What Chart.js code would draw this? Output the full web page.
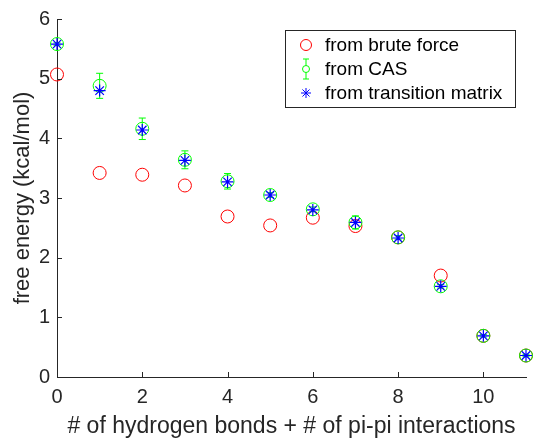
<!DOCTYPE html>
<html lang="en">
<head>
  <meta charset="UTF-8" />
  <title>Free energy vs interactions</title>
  <script src="https://cdn.jsdelivr.net/npm/chart.js"></script>
  <style>
    body { margin: 0; background: white; }
    #wrap { width: 534px; height: 440px; }
  </style>
</head>
<body>
  <div id="wrap"><canvas id="feChart" width="534" height="440"></canvas></div>

  <script>
    // x positions (number of interactions)
    const nInteractions = [0, 1, 2, 3, 4, 5, 6, 7, 8, 9, 10, 11];

    // free energies (kcal/mol)
    const bruteForce = [5.07, 3.42, 3.39, 3.21, 2.69, 2.54, 2.67, 2.53, 2.34, 1.70, 0.69, 0.36];
    const casValues = [5.58, 4.88, 4.16, 3.64, 3.28, 3.05, 2.81, 2.59, 2.34, 1.52, 0.69, 0.36];
    const casErrors = [0.02, 0.21, 0.18, 0.15, 0.13, 0.04, 0.04, 0.11, 0.03, 0.03, 0.02, 0.02];
    const transMatrix = [5.58, 4.80, 4.14, 3.63, 3.27, 3.05, 2.80, 2.59, 2.33, 1.52, 0.69, 0.36];

    const xTicks = [0, 2, 4, 6, 8, 10];
    const yTicks = [0, 1, 2, 3, 4, 5, 6];

    const RED = "#ff0000", GREEN = "#00ff00", BLUE = "#0000ff", INK = "#262626";
    const FONT = "'Liberation Sans', Arial, sans-serif";

    const toPoints = vals => vals.map((v, i) => ({ x: nInteractions[i], y: v }));

    // error bars for the CAS series, drawn right after that dataset
    const errorBars = {
      id: "errorBars",
      afterDatasetDraw(chart, args) {
        const ds = chart.data.datasets[args.index];
        if (!ds.errors) return;
        const { ctx, scales: { x, y } } = chart;
        ctx.save();
        ctx.strokeStyle = ds.borderColor;
        ctx.lineWidth = 1;
        ds.data.forEach((p, i) => {
          const e = ds.errors[i];
          const px = x.getPixelForValue(p.x);
          const top = y.getPixelForValue(p.y + e);
          const bot = y.getPixelForValue(p.y - e);
          ctx.beginPath();
          ctx.moveTo(px, top); ctx.lineTo(px, bot);
          ctx.moveTo(px - 3.5, top); ctx.lineTo(px + 3.5, top);
          ctx.moveTo(px - 3.5, bot); ctx.lineTo(px + 3.5, bot);
          ctx.stroke();
        });
        ctx.restore();
      }
    };

    // inward tick marks and the boxed legend, matlab style
    const matlabBits = {
      id: "matlabBits",
      afterDraw(chart) {
        const { ctx, chartArea: a, scales: { x, y } } = chart;
        ctx.save();
        ctx.strokeStyle = INK;
        ctx.lineWidth = 1;
        ctx.beginPath();
        xTicks.forEach(v => {
          const px = Math.round(x.getPixelForValue(v)) + 0.5;
          ctx.moveTo(px, a.bottom); ctx.lineTo(px, a.bottom - 5);
        });
        yTicks.forEach(v => {
          const py = Math.round(y.getPixelForValue(v)) + 0.5;
          ctx.moveTo(a.left, py); ctx.lineTo(a.left + 5, py);
        });
        ctx.stroke();

        // legend box
        const bx = 285, by = 30, bw = 230, bh = 77;
        ctx.fillStyle = "white";
        ctx.fillRect(bx, by, bw, bh);
        ctx.strokeRect(bx + 0.5, by + 0.5, bw, bh);

        const rows = [45, 69, 93];
        const mx = 306;
        ctx.font = "19px " + FONT;
        ctx.textBaseline = "middle";
        const order = [2, 1, 0]; // red, green, blue entries
        order.forEach((dsIndex, r) => {
          const ds = chart.data.datasets[dsIndex];
          const yy = rows[r];
          ctx.strokeStyle = ds.borderColor;
          ctx.beginPath();
          if (dsIndex === 2) {
            ctx.arc(mx, yy, 5.5, 0, Math.PI * 2);
          } else if (dsIndex === 1) {
            ctx.arc(mx, yy, 3.5, 0, Math.PI * 2);
            ctx.moveTo(mx, yy - 10); ctx.lineTo(mx, yy - 3.5);
            ctx.moveTo(mx, yy + 3.5); ctx.lineTo(mx, yy + 10);
            ctx.moveTo(mx - 3, yy - 10); ctx.lineTo(mx + 3, yy - 10);
            ctx.moveTo(mx - 3, yy + 10); ctx.lineTo(mx + 3, yy + 10);
          } else {
            for (let k = 0; k < 4; k++) {
              const ang = k * Math.PI / 4;
              ctx.moveTo(mx - 5 * Math.cos(ang), yy - 5 * Math.sin(ang));
              ctx.lineTo(mx + 5 * Math.cos(ang), yy + 5 * Math.sin(ang));
            }
          }
          ctx.stroke();
          ctx.fillStyle = "#000";
          ctx.fillText(ds.label, 325, yy + 1);
        });
        ctx.restore();
      }
    };

    const ctx = document.getElementById("feChart").getContext("2d");

    new Chart(ctx, {
      type: "scatter",
      data: {
        datasets: [
          {
            label: "from transition matrix",
            data: toPoints(transMatrix),
            pointStyle: "star",
            pointRadius: 6,
            borderColor: BLUE,
            backgroundColor: BLUE,
            pointBorderWidth: 1.2,
            clip: false,
            order: 0
          },
          {
            label: "from CAS",
            data: toPoints(casValues),
            errors: casErrors,
            pointStyle: "circle",
            pointRadius: 6.5,
            borderColor: GREEN,
            backgroundColor: "rgba(0,0,0,0)",
            pointBorderWidth: 1,
            clip: false,
            order: 1
          },
          {
            label: "from brute force",
            data: toPoints(bruteForce),
            pointStyle: "circle",
            pointRadius: 6.5,
            borderColor: RED,
            backgroundColor: "rgba(0,0,0,0)",
            pointBorderWidth: 1,
            clip: false,
            order: 2
          }
        ]
      },
      options: {
        responsive: false,
        animation: false,
        layout: { padding: { top: 19, right: 8, left: 0, bottom: 0 } },
        plugins: {
          legend: { display: false },
          tooltip: { enabled: false }
        },
        scales: {
          x: {
            type: "linear",
            min: 0,
            max: 11,
            afterBuildTicks: s => { s.ticks = xTicks.map(v => ({ value: v })); },
            afterFit: s => { s.height = 63; },
            grid: { display: false, drawTicks: false },
            border: { display: true, color: INK, width: 1 },
            ticks: { color: INK, padding: 8, font: { family: FONT, size: 20 } },
            title: {
              display: true,
              text: "# of hydrogen bonds + # of pi-pi interactions",
              color: INK,
              padding: { top: 0, bottom: 0 },
              font: { family: FONT, size: 23 }
            }
          },
          y: {
            type: "linear",
            min: 0,
            max: 6,
            afterBuildTicks: s => { s.ticks = yTicks.map(v => ({ value: v })); },
            afterFit: s => { s.width = 57; },
            grid: { display: false, drawTicks: false },
            border: { display: true, color: INK, width: 1 },
            ticks: { color: INK, padding: 7, font: { family: FONT, size: 20 } },
            title: {
              display: true,
              text: "free energy (kcal/mol)",
              color: INK,
              padding: { top: 10, bottom: 0 },
              font: { family: FONT, size: 22 }
            }
          }
        }
      },
      plugins: [errorBars, matlabBits]
    });
  </script>
</body>
</html>
